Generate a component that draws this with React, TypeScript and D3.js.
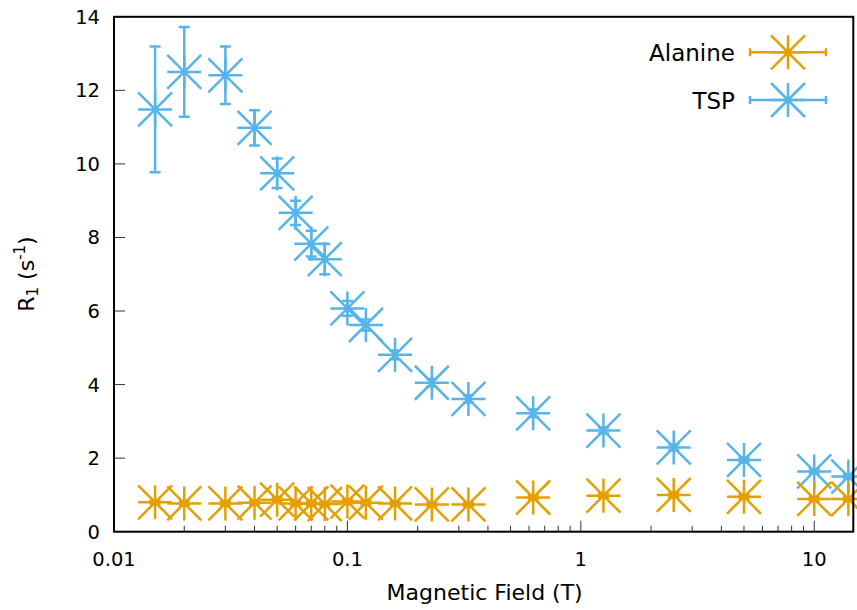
import React, { useEffect, useRef } from 'react';
import * as d3 from 'd3';

// magnetic field (T), shared by both samples
const fields = [0.015, 0.02, 0.03, 0.04, 0.05, 0.06, 0.07, 0.08, 0.1, 0.12, 0.16, 0.23, 0.33, 0.625, 1.25, 2.5, 5, 10, 14];
const tspR1 = [11.48, 12.5, 12.41, 10.98, 9.745, 8.67, 7.83, 7.41, 6.07, 5.62, 4.81, 4.05, 3.61, 3.22, 2.75, 2.29, 1.95, 1.64, 1.5];
const tspErr = [1.71, 1.22, 0.78, 0.48, 0.4, 0.33, 0.35, 0.41, 0.2, 0.15, 0.12, 0.1, 0.1, 0.1, 0.08, 0.08, 0.06, 0.06, 0.05];
const alanineR1 = [0.8, 0.77, 0.77, 0.79, 0.87, 0.77, 0.77, 0.75, 0.82, 0.79, 0.77, 0.74, 0.74, 0.93, 0.98, 1.0, 0.95, 0.89, 0.89];
const alanineErr = [0.05, 0.05, 0.05, 0.05, 0.06, 0.05, 0.05, 0.05, 0.05, 0.05, 0.05, 0.05, 0.05, 0.06, 0.06, 0.06, 0.05, 0.05, 0.05];

const xTicks = [0.01, 0.1, 1, 10];
const xTickLabels = ['0.01', '0.1', '1', '10'];
const yTicks = [0, 2, 4, 6, 8, 10, 12, 14];

const seriesNames = ['Alanine', 'TSP'];
const seriesColors = ['#e69f00', '#56b4e9'];

const W = 857;
const H = 610;
const FONT = 'DejaVu Sans, sans-serif';

const star = 'M-17,0H17M0,-17V17M-17,-17L17,17M-17,17L17,-17';

const App = () => {
    const ref = useRef(null);

    useEffect(() => {
        const svg = d3.select(ref.current);
        svg.selectAll('*').remove();

        const left = 114, right = 853.3, top = 16.8, bottom = 531.7;

        const x = d3.scaleLog().domain([0.01, 14.7]).range([left, right]);
        const y = d3.scaleLinear().domain([0, 14]).range([bottom, top]);

        svg.append('rect').attr('width', W).attr('height', H).attr('fill', '#fff');

        // minor ticks on the log axis
        const minor = [];
        [0.01, 0.1, 1, 10].forEach(d => {
            for (let k = 2; k <= 9; k++) {
                const v = d * k;
                if (v < 14.7) minor.push(v);
            }
        });
        svg.append('g').selectAll('line').data(minor).enter().append('line')
            .attr('x1', d => x(d)).attr('x2', d => x(d))
            .attr('y1', bottom).attr('y2', bottom - 6)
            .attr('stroke', '#333').attr('stroke-width', 1);

        svg.append('g').selectAll('line').data(xTicks).enter().append('line')
            .attr('x1', d => x(d)).attr('x2', d => x(d))
            .attr('y1', bottom).attr('y2', bottom - 11)
            .attr('stroke', '#333').attr('stroke-width', 1);

        svg.append('g').selectAll('line').data(yTicks).enter().append('line')
            .attr('x1', left).attr('x2', left + 11)
            .attr('y1', d => y(d)).attr('y2', d => y(d))
            .attr('stroke', '#333').attr('stroke-width', 1);

        svg.append('g').selectAll('text').data(xTicks).enter().append('text')
            .attr('x', d => x(d)).attr('y', 566)
            .attr('text-anchor', 'middle')
            .style('font-family', FONT).style('font-size', '19.5px')
            .text((d, i) => xTickLabels[i]);

        svg.append('g').selectAll('text').data(yTicks).enter().append('text')
            .attr('x', 100).attr('y', d => y(d) + 7)
            .attr('text-anchor', 'end')
            .style('font-family', FONT).style('font-size', '19.5px')
            .text(d => d);

        svg.append('text')
            .attr('x', (left + right) / 2 + 1).attr('y', 600)
            .attr('text-anchor', 'middle')
            .style('font-family', FONT).style('font-size', '22px')
            .text('Magnetic Field (T)');

        const ylab = svg.append('text')
            .attr('transform', 'translate(34,274) rotate(-90)')
            .attr('text-anchor', 'middle')
            .style('font-family', FONT).style('font-size', '22px');
        ylab.append('tspan').text('R');
        ylab.append('tspan').attr('dy', 4).style('font-size', '15px').text('1');
        ylab.append('tspan').attr('dy', -4).text(' (s');
        ylab.append('tspan').attr('dy', -9).style('font-size', '15px').text('-1');
        ylab.append('tspan').attr('dy', 9).text(')');

        const drawSeries = (vals, errs, color) => {
            const g = svg.append('g').attr('stroke', color).attr('stroke-width', 2.5).attr('fill', 'none');
            const pts = fields.map((f, i) => ({ f, v: vals[i], e: errs[i] }));
            g.selectAll('path.err').data(pts).enter().append('path')
                .attr('class', 'err')
                .attr('d', d => {
                    const cx = x(d.f), y0 = y(d.v - d.e), y1 = y(d.v + d.e);
                    return `M${cx},${y0}V${y1}M${cx - 5.5},${y0}H${cx + 5.5}M${cx - 5.5},${y1}H${cx + 5.5}`;
                });
            g.selectAll('path.pt').data(pts).enter().append('path')
                .attr('class', 'pt')
                .attr('transform', d => `translate(${x(d.f)},${y(d.v)})`)
                .attr('d', star);
        };

        drawSeries(tspR1, tspErr, seriesColors[1]);
        drawSeries(alanineR1, alanineErr, seriesColors[0]);

        // border
        svg.append('rect')
            .attr('x', left).attr('y', top)
            .attr('width', right - left).attr('height', bottom - top)
            .attr('fill', 'none').attr('stroke', '#000').attr('stroke-width', 2);

        // legend
        const legendY = [52.3, 100];
        seriesNames.forEach((name, i) => {
            const ly = legendY[i];
            svg.append('text')
                .attr('x', 735).attr('y', ly + 9)
                .attr('text-anchor', 'end')
                .style('font-family', FONT).style('font-size', '23px')
                .text(name);
            const lg = svg.append('g').attr('stroke', seriesColors[i]).attr('stroke-width', 2.5).attr('fill', 'none');
            lg.append('path').attr('d', `M750,${ly}H826M750,${ly - 4}V${ly + 4}M826,${ly - 4}V${ly + 4}`);
            lg.append('path').attr('transform', `translate(788,${ly})`).attr('d', star);
        });
    }, []);

    return (
        <svg ref={ref} width={W} height={H}
            style={{ position: 'absolute', left: 0, top: 0, display: 'block' }}></svg>
    );
};

export default App;
